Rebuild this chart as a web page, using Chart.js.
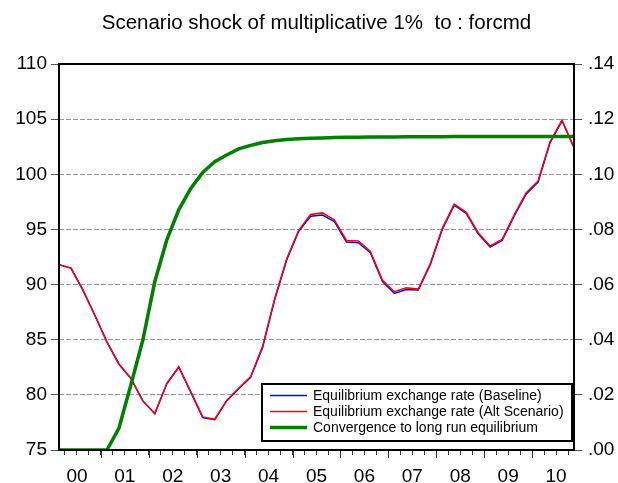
<!DOCTYPE html>
<html>
<head>
<meta charset="utf-8">
<script src="https://cdn.jsdelivr.net/npm/chart.js@4"></script>
<style>
  html, body { margin: 0; padding: 0; background: #fff; }
  #wrap { width: 618px; height: 483px; }
</style>
</head>
<body>
<div id="wrap"><canvas id="myChart" width="618" height="483"></canvas></div>
<script>
// tick labels for the year bands (2000 - 2010), four quarters each
const years = ['00', '01', '02', '03', '04', '05', '06', '07', '08', '09', '10'];
const quarters = [];
years.forEach(y => { for (let q = 1; q <= 4; q++) quarters.push('20' + y + 'Q' + q); });

// left axis
const baseline = [91.8, 91.5, 89.5, 87.2, 84.8, 82.8, 81.5, 79.45, 78.3, 81.0, 82.5,
    80.25, 77.95, 77.75, 79.45, 80.55, 81.6, 84.3, 88.6, 92.2, 94.8, 96.2,
    96.3, 95.7, 93.85, 93.8, 92.9, 90.3, 89.2, 89.55, 89.5, 91.8, 95.0,
    97.2, 96.45, 94.6, 93.4, 94.0, 96.2, 98.2, 99.3, 102.85, 104.85, 102.4];
const altScenario = [91.8, 91.5, 89.5, 87.2, 84.8, 82.8, 81.5, 79.45, 78.3, 81.05, 82.55,
    80.3, 78.0, 77.8, 79.5, 80.6, 81.65, 84.4, 88.7, 92.3, 94.9, 96.35,
    96.5, 95.85, 94.0, 93.95, 93.0, 90.4, 89.35, 89.7, 89.6, 91.9, 95.1,
    97.3, 96.55, 94.7, 93.5, 94.1, 96.3, 98.3, 99.4, 102.95, 104.9, 102.45];
// right axis
const convergence = [0, 0, 0, 0, 0, 0.0079, 0.0236, 0.0399, 0.0611, 0.0762, 0.0871,
    0.0949, 0.1007, 0.1046, 0.1070, 0.1092, 0.1105, 0.1115, 0.1122, 0.1126, 0.1129, 0.1131,
    0.1132, 0.1133, 0.1134, 0.1134, 0.1135, 0.1135, 0.1135, 0.1136, 0.1136, 0.1136, 0.1136,
    0.1137, 0.1137, 0.1137, 0.1137, 0.1137, 0.1137, 0.1137, 0.1137, 0.1137, 0.1137, 0.1137];

const leftTicks = [75, 80, 85, 90, 95, 100, 105, 110];
const seriesColors = ['#0000ff', '#ff0000', '#008000'];

const FONT = 'Liberation Sans, Arial, sans-serif';

const toXY = arr => arr.map((v, i) => ({ x: i, y: v }));

const framePlugin = {
    id: 'frame',
    afterDraw(chart) {
        const ctx = chart.ctx;
        const a = chart.chartArea;
        const xs = chart.scales.x;
        ctx.save();
        ctx.setLineDash([]);
        // longer ticks at year boundaries
        ctx.strokeStyle = '#333';
        ctx.lineWidth = 1;
        for (let k = 0; k < years.length - 1; k++) {
            const px = Math.round(xs.getPixelForValue(3.5 + 4 * k)) + 0.5;
            ctx.beginPath();
            ctx.moveTo(px, a.bottom);
            ctx.lineTo(px, a.bottom + 8);
            ctx.stroke();
        }
        // box round the plot
        ctx.strokeStyle = '#000';
        ctx.lineWidth = 2;
        ctx.strokeRect(a.left, a.top, a.right - a.left, a.bottom - a.top);

        // legend box, bottom right inside plot
        const w = 310, h = 57;
        const bx = a.right - 2 - w, by = a.bottom - 9 - h;
        ctx.fillStyle = '#fff';
        ctx.fillRect(bx, by, w, h);
        ctx.strokeStyle = '#000';
        ctx.lineWidth = 2;
        ctx.strokeRect(bx, by, w, h);
        ctx.font = '14px ' + FONT;
        ctx.textBaseline = 'middle';
        chart.data.datasets.forEach((ds, i) => {
            const y = Math.round(by + 11 + i * 16) + 0.5;
            ctx.beginPath();
            ctx.strokeStyle = seriesColors[i];
            ctx.lineWidth = i === 2 ? 3.5 : 1.5;
            ctx.moveTo(bx + 8, y);
            ctx.lineTo(bx + 45, y);
            ctx.stroke();
            ctx.fillStyle = '#000';
            ctx.fillText(ds.label, bx + 51, y + 0.5);
        });
        ctx.restore();
    }
};

const ctx = document.getElementById('myChart').getContext('2d');
const myChart = new Chart(ctx, {
    type: 'line',
    data: {
        datasets: [{
            label: 'Equilibrium exchange rate (Baseline)',
            data: toXY(baseline),
            borderColor: seriesColors[0],
            borderWidth: 1.5,
            pointRadius: 0,
            order: 2,
            yAxisID: 'y'
        },
        {
            label: 'Equilibrium exchange rate (Alt Scenario)',
            data: toXY(altScenario),
            borderColor: seriesColors[1],
            borderWidth: 1.5,
            pointRadius: 0,
            order: 1,
            yAxisID: 'y'
        },
        {
            label: 'Convergence to long run equilibrium',
            data: toXY(convergence),
            borderColor: seriesColors[2],
            borderWidth: 3.5,
            pointRadius: 0,
            order: 0,
            yAxisID: 'y1'
        }]
    },
    options: {
        responsive: false,
        animation: false,
        layout: { padding: 0 },
        plugins: {
            legend: { display: false },
            tooltip: { enabled: false },
            title: {
                display: true,
                fullSize: false,
                text: 'Scenario shock of multiplicative 1%  to : forcmd',
                color: '#000',
                font: { family: FONT, size: 20.5, weight: 'normal' },
                padding: { top: 11, bottom: 28.4 }
            }
        },
        scales: {
            x: {
                type: 'linear',
                min: 0,
                max: quarters.length - 1,
                afterBuildTicks: s => {
                    s.ticks = quarters.slice(0, -1).map((q, i) => ({ value: i + 0.5 }));
                },
                afterFit: s => { s.height = 33; },
                ticks: {
                    autoSkip: false,
                    maxRotation: 0,
                    padding: 10,
                    color: '#000',
                    font: { family: FONT, size: 19 },
                    callback: v => ((v - 1.5) % 4 === 0 ? years[(v - 1.5) / 4] : '')
                },
                grid: { drawOnChartArea: false, tickLength: 5, tickColor: '#333' },
                border: { display: false }
            },
            y: {
                position: 'left',
                min: 75,
                max: 110,
                afterBuildTicks: s => { s.ticks = leftTicks.map(v => ({ value: v })); },
                afterFit: s => { s.width = 59; },
                ticks: {
                    padding: 4,
                    color: '#000',
                    font: { family: FONT, size: 19 }
                },
                grid: {
                    color: c => (c.tick && (c.tick.value === 75 || c.tick.value === 110) ? 'rgba(0,0,0,0)' : '#999'),
                    lineWidth: 1,
                    tickLength: 8,
                    tickColor: '#555'
                },
                border: { display: false, dash: [5, 2] }
            },
            y1: {
                position: 'right',
                min: 0,
                max: 0.14,
                ticks: {
                    stepSize: 0.02,
                    padding: 6,
                    color: '#000',
                    font: { family: FONT, size: 19 },
                    callback: v => v.toFixed(2).slice(1)
                },
                afterFit: s => { s.width = 44; },
                grid: { drawOnChartArea: false, tickLength: 8, tickColor: '#555' },
                border: { display: false }
            }
        }
    },
    plugins: [framePlugin]
});
</script>
</body>
</html>
